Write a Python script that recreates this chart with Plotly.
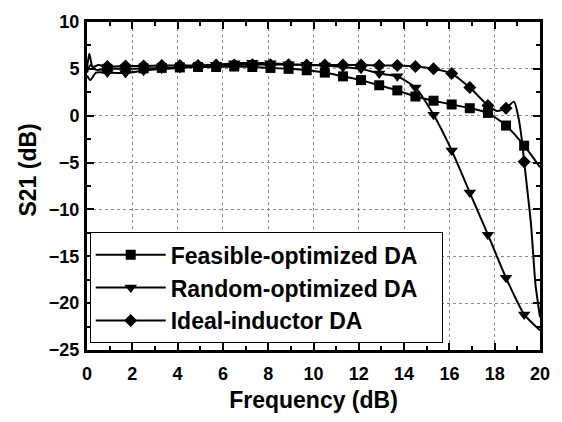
import plotly.graph_objects as go

# Frequency points (GHz) along each measured curve and S21 (dB) values
feasible_freq = [0, 0.15, 0.4, 0.9, 1.7, 2.5, 3.3, 4.1, 4.9, 5.7, 6.5, 7.3, 8.1, 8.9, 9.7,
                 10.5, 11.3, 12.1, 12.9, 13.7, 14.5, 15.3, 16.1, 16.9, 17.7, 18.5, 19.3, 20]
feasible_s21 = [4.6, 5.4, 4.9, 5.0, 5.0, 5.05, 5.1, 5.15, 5.2, 5.2, 5.25, 5.2, 5.1, 5.0, 4.85,
                4.6, 4.2, 3.8, 3.25, 2.7, 2.05, 1.6, 1.2, 0.8, 0.3, -1.05, -3.2, -5.5]

random_freq = [0, 0.15, 0.4, 0.9, 1.7, 2.5, 3.3, 4.1, 4.9, 5.7, 6.5, 7.3, 8.1, 8.9, 9.7,
               10.5, 11.3, 12.1, 12.9, 13.7, 14.5, 15.3, 16.1, 16.9, 17.7, 18.5, 19.3, 20]
random_s21 = [4.3, 3.8, 4.6, 4.6, 4.55, 4.8, 5.0, 5.1, 5.3, 5.45, 5.6, 5.65, 5.6, 5.5, 5.45,
              5.35, 5.2, 5.0, 4.5, 4.2, 3.0, 0.1, -3.7, -8.2, -12.7, -17.3, -21.2, -22.9]

ideal_freq = [0, 0.1, 0.25, 0.5, 0.9, 1.7, 2.5, 3.3, 4.1, 4.9, 5.7, 6.5, 7.3, 8.1, 8.9, 9.7,
              10.5, 11.3, 12.1, 12.9, 13.7, 14.5, 15.3, 16.1, 16.9, 17.7, 18.1, 18.5, 18.85,
              19.05, 19.2, 19.3, 19.6, 19.8, 20]
ideal_s21 = [5.0, 6.6, 5.2, 5.4, 5.25, 5.3, 5.3, 5.35, 5.35, 5.35, 5.4, 5.4, 5.45, 5.45, 5.45, 5.4,
             5.4, 5.4, 5.4, 5.35, 5.35, 5.25, 5.0, 4.5, 3.0, 1.1, 0.5, 0.8, 1.5,
             -0.2, -2.6, -4.9, -11.5, -18.0, -21.5]

# Frequencies where symbols are placed on every curve
marker_freq = [0.9, 1.7, 2.5, 3.3, 4.1, 4.9, 5.7, 6.5, 7.3, 8.1, 8.9, 9.7, 10.5, 11.3,
               12.1, 12.9, 13.7, 14.5, 15.3, 16.1, 16.9, 17.7, 18.5, 19.3]

series = [
    ("Feasible-optimized DA", feasible_freq, feasible_s21, "square", 10),
    ("Random-optimized DA", random_freq, random_s21, "triangle-down", 11),
    ("Ideal-inductor DA", ideal_freq, ideal_s21, "diamond", 10),
]

FONT = "Liberation Sans, Arial, sans-serif"

fig = go.Figure()
for name, fx, fy, symbol, size in series:
    lookup = dict(zip(fx, fy))
    mx = [f for f in marker_freq if f in lookup]
    my = [lookup[f] for f in mx]
    fig.add_trace(go.Scatter(
        x=fx, y=fy, mode="lines", line=dict(color="black", width=2, shape="spline", smoothing=0.6),
        showlegend=False, hoverinfo="skip"))
    fig.add_trace(go.Scatter(
        x=mx, y=my, mode="markers", marker=dict(symbol=symbol, size=size, color="black"),
        showlegend=False))
    # legend entry: line with symbol
    fig.add_trace(go.Scatter(
        x=[None], y=[None], mode="lines+markers", name=name,
        line=dict(color="black", width=2),
        marker=dict(symbol=symbol, size=size, color="black")))

axis_common = dict(
    showline=True, linecolor="black", linewidth=3, mirror="allticks",
    ticks="inside", ticklen=7, tickwidth=2, tickcolor="black",
    showgrid=True, gridcolor="#8a8a8a", gridwidth=1, griddash="dot",
    zeroline=False,
    tickfont=dict(family=FONT, size=18, color="black", weight="bold"),
)

fig.update_xaxes(
    range=[0, 20], tick0=0, dtick=2, ticklabelstandoff=5,
    minor=dict(dtick=1, ticks="inside", ticklen=4, tickwidth=1.5, tickcolor="black", showgrid=False),
    title=dict(text="Frequency (dB)", font=dict(family=FONT, size=23, color="black", weight="bold"),
               standoff=10),
    **axis_common)
fig.update_yaxes(
    range=[-25, 10], tick0=-25, dtick=5, ticklabelstandoff=1,
    minor=dict(dtick=2.5, ticks="inside", ticklen=4, tickwidth=1.5, tickcolor="black", showgrid=False),
    **axis_common)

fig.update_layout(
    width=562, height=422,
    margin=dict(l=87, r=17, t=16, b=69),
    paper_bgcolor="white", plot_bgcolor="white",
    legend=dict(
        orientation="h",
        x=0.006, y=0.359, xanchor="left", yanchor="top",
        bgcolor="white", bordercolor="black", borderwidth=1,
        font=dict(family=FONT, size=23, color="black", weight="bold"),
        itemwidth=70, entrywidth=266, entrywidthmode="pixels",
    ),
    annotations=[dict(
        text="S21 (dB)", textangle=-90, showarrow=False,
        xref="paper", yref="paper", x=-0.131, y=0.549, xanchor="center", yanchor="middle",
        font=dict(family=FONT, size=23, color="black", weight="bold"),
    )],
)

fig.write_html("out.html")
